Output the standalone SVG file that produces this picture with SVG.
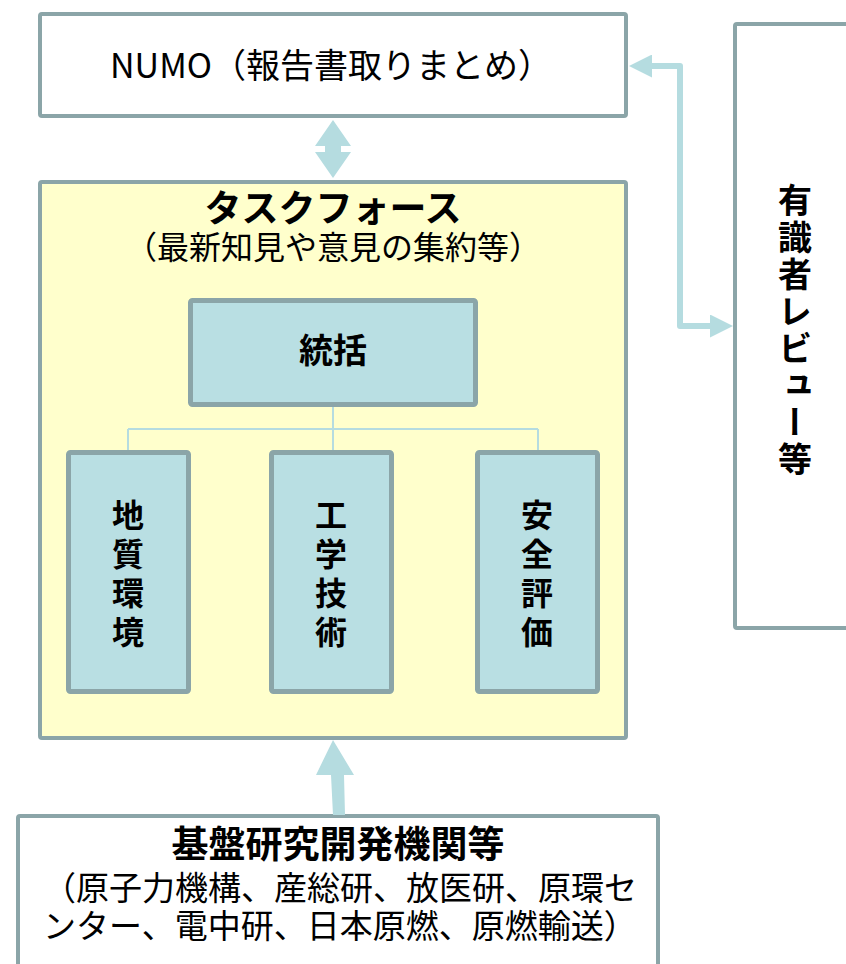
<svg xmlns="http://www.w3.org/2000/svg" width="846" height="964" viewBox="0 0 846 964">
<style>
.box{stroke:#8ba5a8;stroke-width:4;}
.white{fill:#ffffff;}
.yellow{fill:#ffffcc;}
.blue{fill:#b9dfe3;stroke:#8ba5a8;stroke-width:5;}
.t{font-family:"Noto Sans CJK JP","Noto Sans",sans-serif;fill:#000;}
.b{font-weight:bold;}
.v{writing-mode:vertical-rl;text-orientation:upright;}
.conn{fill:none;stroke:#b5dce0;}
.arrowfill{fill:#b5dce0;}
</style>
<defs>
<marker id="ah" markerUnits="userSpaceOnUse" markerWidth="23" markerHeight="23" refX="0" refY="11.5" orient="auto-start-reverse" viewBox="0 0 23 23">
<path d="M0,0 L23,11.5 L0,23 z" fill="#b5dce0"/>
</marker>
</defs>
<rect width="846" height="964" fill="#ffffff"/>

<g id="numo">
<rect class="box white" x="40" y="14" width="586" height="102" rx="2"/>
<text class="t" x="331" y="78" font-size="34" text-anchor="middle">NUMO（報告書取りまとめ）</text>
</g>

<g id="taskforce">
<rect class="box yellow" x="40" y="182" width="586" height="556" rx="2"/>
<text class="t b" x="333" y="222" font-size="37" text-anchor="middle">タスクフォース</text>
<text class="t" x="333" y="259" font-size="32" text-anchor="middle">（最新知見や意見の集約等）</text>
</g>

<g id="tokatsu">
<rect class="blue" x="190.5" y="300.5" width="285" height="104" rx="2"/>
<text class="t b" x="333" y="363" font-size="34" text-anchor="middle">統括</text>
</g>

<g id="chishitsu">
<rect class="blue" x="68.5" y="452.5" width="120" height="239" rx="2"/>
<text class="t b v" x="128" y="577" font-size="32" letter-spacing="7" text-anchor="middle">地質環境</text>
</g>

<g id="kogaku">
<rect class="blue" x="271.5" y="452.5" width="120" height="239" rx="2"/>
<text class="t b v" x="331" y="577" font-size="32" letter-spacing="7" text-anchor="middle">工学技術</text>
</g>

<g id="anzen">
<rect class="blue" x="477.5" y="452.5" width="120" height="239" rx="2"/>
<text class="t b v" x="537" y="577" font-size="32" letter-spacing="7" text-anchor="middle">安全評価</text>
</g>

<g id="review">
<rect class="box white" x="735" y="24" width="200" height="604" rx="2"/>
<text class="t b v" x="795" y="331" font-size="34" letter-spacing="3" text-anchor="middle">有識者レビュー等</text>
</g>

<g id="kiban">
<rect class="box white" x="18" y="816" width="640" height="200" rx="2"/>
<text class="t b" x="338" y="858" font-size="37" text-anchor="middle">基盤研究開発機関等</text>
<text class="t" x="43" y="900" font-size="33">（原子力機構、産総研、放医研、原環セ</text>
<text class="t" x="43" y="938" font-size="33">ンター、電中研、日本原燃、原燃輸送）</text>
</g>

<g id="connectors">
<polygon class="arrowfill" points="333,120 351,146 341,146 341,152 351,152 333,178 315,152 325,152 325,146 315,146"/>
<path class="conn" stroke-width="6" stroke-linejoin="round" d="M652,66 H680 V326 H710" marker-start="url(#ah)" marker-end="url(#ah)"/>
<polygon class="arrowfill" points="333,740 354,775 344,775 345,815 333,815 331,775 316,775"/>
<path class="conn" stroke-width="2" d="M333,407 V429 M128,429 H538 M128,429 V450 M333,429 V450 M538,429 V450"/>
</g>
</svg>
